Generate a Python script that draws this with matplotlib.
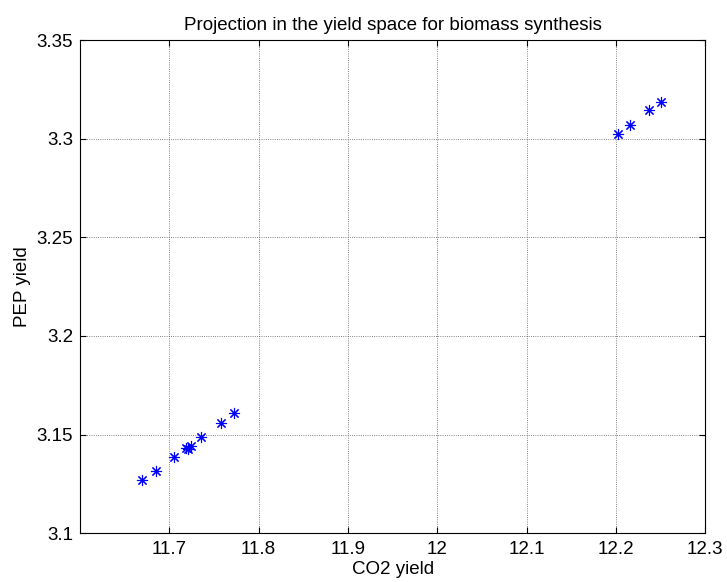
import matplotlib.pyplot as plt

plt.rcParams['font.family'] = ['Liberation Sans', 'DejaVu Sans']

# CO2 / PEP yields
co2_low = [11.670, 11.685, 11.705, 11.719, 11.721, 11.724, 11.736, 11.7575, 11.773]
pep_low = [3.1269, 3.1314, 3.1385, 3.1430, 3.1425, 3.1442, 3.1488, 3.1559, 3.1607]
co2_high = [12.202, 12.216, 12.2374, 12.2505]
pep_high = [3.3025, 3.3069, 3.3144, 3.3187]

x_ticks = [11.7, 11.8, 11.9, 12.0, 12.1, 12.2, 12.3]
x_labels = ['11.7', '11.8', '11.9', '12', '12.1', '12.2', '12.3']
y_ticks = [3.1, 3.15, 3.2, 3.25, 3.3, 3.35]
y_labels = ['3.1', '3.15', '3.2', '3.25', '3.3', '3.35']

fs = 13.5

fig = plt.figure(figsize=(7.27, 5.82), dpi=100)
ax = fig.add_axes([0.110, 0.084, 0.860, 0.847])

ax.plot(co2_low + co2_high, pep_low + pep_high, linestyle='none',
        marker=(8, 2, 0), markersize=8, markeredgewidth=0.8, color='blue')

ax.set_xlim(11.6, 12.3)
ax.set_ylim(3.1, 3.35)
ax.set_xticks(x_ticks)
ax.set_xticklabels(x_labels)
ax.set_yticks(y_ticks)
ax.set_yticklabels(y_labels)
ax.tick_params(direction='in', top=True, right=True, labelsize=fs, length=4)
ax.tick_params(axis='x', pad=6)
ax.tick_params(axis='y', pad=5)
ax.grid(True, linestyle=':', color='0.35', linewidth=0.6)
for s in ax.spines.values():
    s.set_linewidth(0.8)

ax.set_title('Projection in the yield space for biomass synthesis', fontsize=fs, pad=7)
ax.set_xlabel('CO2 yield', fontsize=fs, labelpad=2)
ax.set_ylabel('PEP yield', fontsize=fs, labelpad=4)

fig.savefig('out.png', dpi=100)
